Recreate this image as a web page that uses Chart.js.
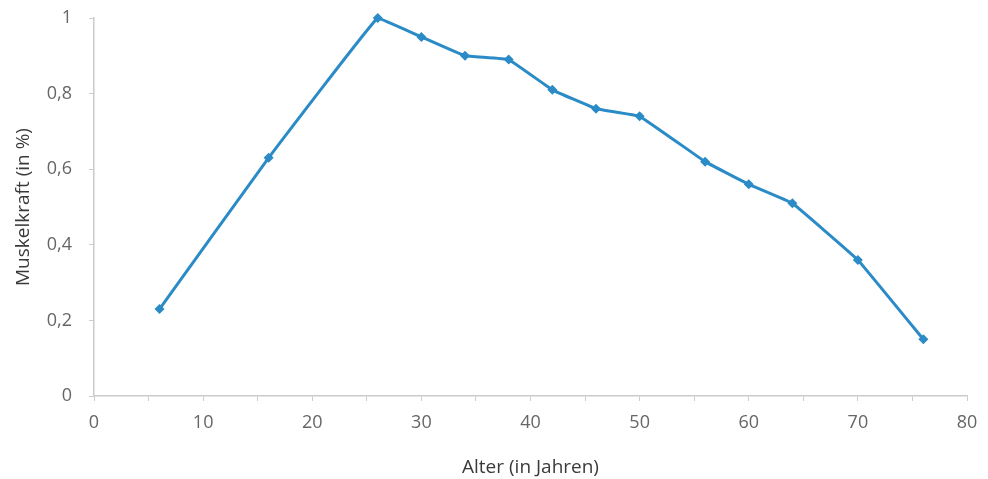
<!DOCTYPE html>
<html><head><meta charset="utf-8">
<script src="https://cdn.jsdelivr.net/npm/chart.js@4/dist/chart.umd.min.js"></script>
<style>html,body{margin:0;padding:0;background:#fff}</style>
</head><body>
<canvas id="c" width="988" height="479"></canvas>
<script>
const ages = [6, 16, 26, 30, 34, 38, 42, 46, 50, 56, 60, 64, 70, 76];
const strength = [0.23, 0.63, 1.0, 0.95, 0.90, 0.89, 0.81, 0.76, 0.74, 0.62, 0.56, 0.51, 0.36, 0.15];
const xTickLabels = ['0','10','20','30','40','50','60','70','80'];
const yTickLabels = ['0','0,2','0,4','0,6','0,8','1'];
const xTitle = 'Alter (in Jahren)';
const yTitle = 'Muskelkraft (in %)';

const pts = ages.map((a, i) => ({x: a, y: strength[i]}));
const fam = '"Open Sans", "Liberation Sans", sans-serif';
const font = {family: fam, size: 19};
const tickFont = {family: fam, size: 18};
const txt = '#666666';
const titleCol = '#3a3a3a';
const axisCol = '#cccccc';

new Chart(document.getElementById('c'), {
  type: 'line',
  data: {datasets: [{
    data: pts,
    borderColor: '#2a8bc6',
    backgroundColor: '#2a8bc6',
    borderWidth: 3,
    pointStyle: 'rectRot',
    pointRadius: 5,
    pointBorderWidth: 0,
    tension: 0.06,
    clip: false,
    fill: false
  }]},
  options: {
    responsive: false,
    animation: false,
    layout: {padding: {top: 18, right: 21, bottom: 0, left: 0}},
    plugins: {legend: {display: false}, tooltip: {enabled: false}},
    scales: {
      x: {
        type: 'linear', min: 0, max: 80,
        afterFit: s => { s.height = 83; s.paddingLeft = 0; s.paddingRight = 0; },
        border: {color: axisCol, width: 1.5},
        grid: {drawOnChartArea: false, drawTicks: true, tickLength: 5, color: axisCol},
        ticks: {
          stepSize: 5, color: txt, font: tickFont, padding: 11, maxRotation: 0, autoSkip: false,
          callback: v => (v % 10 === 0 ? xTickLabels[v / 10] : '')
        },
        title: {display: true, text: xTitle, color: titleCol, font: font, padding: {top: 6, bottom: 0}}
      },
      y: {
        type: 'linear', min: 0, max: 1,
        afterFit: s => { s.width = 94; s.paddingTop = 0; s.paddingBottom = 0; },
        border: {color: axisCol, width: 1.5},
        grid: {drawOnChartArea: false, drawTicks: true, tickLength: 5, color: axisCol},
        ticks: {
          stepSize: 0.2, color: txt, font: tickFont, padding: 17,
          callback: (v) => yTickLabels[Math.round(v * 5)]
        },
        title: {display: true, text: yTitle, color: titleCol, font: font, padding: {top: 12, bottom: 0}}
      }
    }
  }
});
</script>
</body></html>
